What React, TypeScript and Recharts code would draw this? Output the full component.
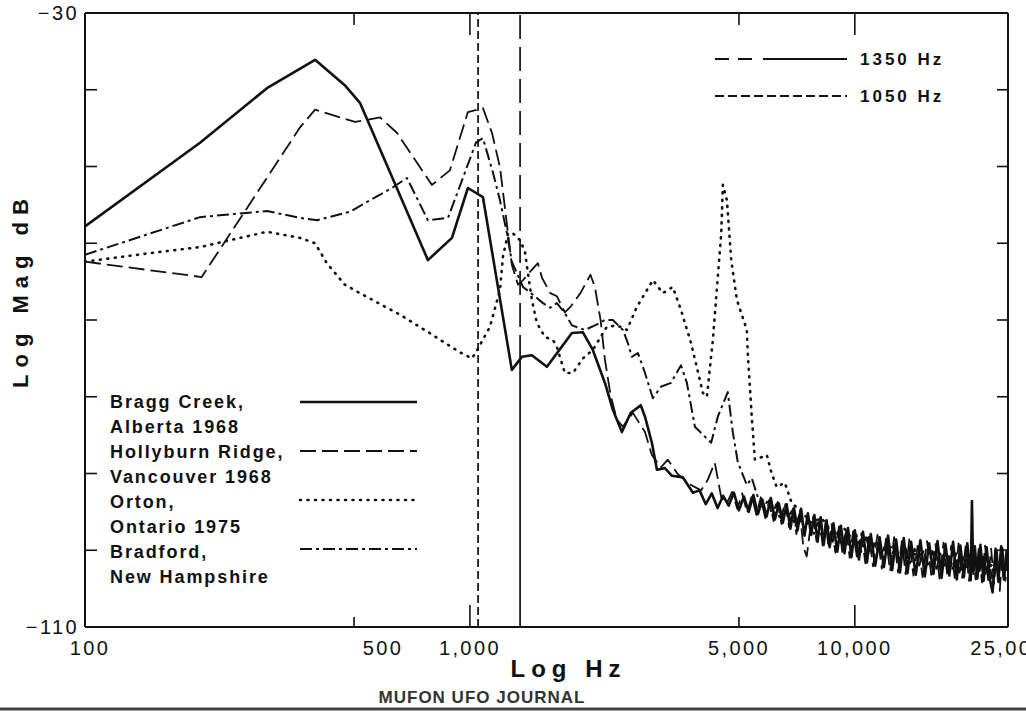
import React from 'react';
import { LineChart, Line, XAxis, YAxis, ReferenceLine, Legend } from 'recharts';

const FONT = '"Liberation Sans", Arial, Helvetica, sans-serif';
const INK = '#111';

// axis ticks
const freqTicks = [100, 500, 1000, 5000, 10000, 25000];
const freqLabels = ['100', '500', '1,000', '5,000', '10,000', '25,000'];
const dbTicks = [-110, -100, -90, -80, -70, -60, -50, -40, -30];
const dbLabeled = [-110, -30];

// marker lines (Hz)
const markerLabels = ['1350 Hz', '1050 Hz'];
const markerFreqs = [1350, 1050];

// [Hz, dB]
const braggCreek = [
  [100, -57.8], [199, -46.9], [297, -39.8], [396, -36.1], [473, -39.4], [518, -41.7],
  [778, -62.2], [898, -59.3], [988, -52.8], [1081, -54.0], [1285, -76.5], [1365, -74.8],
  [1449, -74.6], [1585, -76.1], [1841, -71.7], [1966, -71.6], [2086, -73.9], [2243, -78.2],
  [2352, -81.7], [2482, -84.6], [2617, -82.1], [2779, -81.1], [2850, -82.6], [2970, -86.0],
  [3061, -89.5], [3210, -89.3], [3349, -90.3], [3575, -90.5], [3796, -92.5],
  [3950, -92.2], [4100, -94.0], [4250, -92.6], [4400, -94.5], [4550, -92.9], [4700, -94.2],
  [4850, -92.5], [5000, -94.8], [5150, -93.0], [5300, -95.0], [5450, -92.8], [5600, -95.3],
  [5750, -93.4], [5900, -95.6], [6050, -93.2], [6200, -96.0], [6350, -93.9], [6500, -96.4],
  [6650, -94.0], [6800, -97.2], [6950, -94.5], [7100, -97.4], [7250, -94.6], [7400, -98.1],
  [7550, -95.2], [7700, -98.0], [7850, -95.4], [8000, -98.9], [8150, -95.7], [8300, -99.3],
  [8450, -96.1], [8600, -99.6], [8800, -96.5], [9000, -100.2], [9200, -96.8], [9400, -100.4],
  [9600, -97.1], [9800, -100.9], [10000, -97.4], [10250, -101.2], [10500, -97.6], [10750, -101.6],
  [11000, -97.9], [11300, -102.0], [11600, -98.3], [11900, -102.2], [12200, -98.1], [12500, -102.6],
  [12800, -98.6], [13100, -102.9], [13400, -98.4], [13700, -103.0], [14000, -98.9], [14400, -103.2],
  [14800, -98.7], [15200, -103.4], [15600, -99.1], [16000, -103.1], [16400, -98.8], [16800, -103.6],
  [17200, -99.2], [17600, -103.3], [18000, -98.9], [18400, -103.8], [18800, -99.4], [19200, -103.5],
  [19600, -99.1], [20000, -103.9], [20150, -93.6], [20300, -102.8], [20500, -99.5], [20800, -103.7],
  [21200, -99.3], [21600, -104.0], [22000, -99.6], [22400, -103.6], [22800, -105.5], [23200, -99.8],
  [23600, -104.1], [24000, -99.5], [24400, -103.8], [24800, -100.0], [25000, -102.5],
];

const hollyburnRidge = [
  [100, -62.4], [201, -64.4], [362, -44.9], [396, -42.6], [503, -44.2], [584, -43.6],
  [646, -45.6], [797, -52.4], [887, -50.5], [988, -42.9], [1081, -42.4], [1141, -45.6],
  [1197, -50.1], [1256, -58.7], [1285, -62.8], [1333, -65.4], [1374, -64.8], [1434, -63.7],
  [1502, -62.6], [1539, -64.5], [1617, -66.5], [1682, -66.9], [1765, -69.0], [1824, -68.3],
  [1937, -66.5], [2057, -64.1], [2112, -65.7], [2185, -70.0], [2243, -75.2], [2320, -79.8],
  [2409, -83.0], [2497, -83.9], [2651, -82.1], [2850, -84.6], [2970, -87.6], [3134, -89.2],
  [3268, -88.2], [3470, -90.1], [3754, -91.5], [3987, -92.2], [4150, -90.8], [4327, -88.6],
  [4497, -93.1], [4650, -93.9], [4800, -92.4], [4950, -94.6], [5100, -92.6], [5250, -95.1],
  [5400, -92.9], [5550, -95.4], [5700, -93.1], [5850, -95.8], [6000, -93.4], [6150, -96.2],
  [6300, -93.7], [6450, -96.6], [6600, -94.0], [6750, -97.0], [6900, -94.6], [7050, -97.9],
  [7200, -95.0], [7350, -99.6], [7500, -100.8], [7650, -97.4], [7800, -95.6], [7950, -98.8],
  [8100, -95.9], [8250, -99.4], [8400, -96.2], [8550, -99.8], [8700, -96.6], [8900, -100.3],
  [9100, -96.9], [9300, -100.6], [9500, -97.3], [9700, -101.0], [9900, -97.5], [10150, -101.3],
  [10400, -97.8], [10650, -101.7], [10900, -98.1], [11150, -102.1], [11450, -98.0], [11750, -102.4],
  [12050, -98.5], [12350, -102.7], [12650, -98.3], [12950, -102.9], [13250, -98.8], [13550, -103.1],
  [13850, -98.6], [14200, -103.3], [14600, -99.0], [15000, -103.5], [15400, -98.8], [15800, -103.2],
  [16200, -99.2], [16600, -103.7], [17000, -99.0], [17400, -103.4], [17800, -99.4], [18200, -103.9],
  [18600, -99.1], [19000, -103.6], [19400, -99.5], [19800, -104.0], [20200, -99.3], [20600, -103.8],
  [21000, -99.6], [21400, -104.2], [21800, -99.4], [22200, -103.9], [22600, -99.8], [23000, -104.4],
  [23400, -100.0], [23800, -105.3], [24200, -99.7], [24600, -104.0], [25000, -101.5],
];

const orton = [
  [100, -62.4], [147, -61.3], [199, -60.5], [297, -58.5], [362, -59.3], [396, -60.0],
  [425, -62.6], [473, -65.4], [540, -67.0], [658, -69.3], [786, -71.7], [941, -74.2],
  [1012, -75.0], [1034, -74.3], [1127, -70.9], [1197, -66.1], [1218, -61.8], [1256, -58.7],
  [1293, -58.7], [1350, -59.6], [1390, -61.1], [1415, -63.9], [1449, -67.4], [1493, -70.4],
  [1566, -72.2], [1643, -72.6], [1682, -73.5], [1765, -76.9], [1852, -76.9], [1966, -75.0],
  [2086, -73.9], [2268, -70.9], [2409, -70.7], [2557, -71.3], [2715, -68.3], [2988, -64.8],
  [3171, -66.5], [3366, -65.7], [3535, -68.7], [3754, -73.0], [4030, -79.5], [4127, -80.0],
  [4277, -72.6], [4497, -58.7], [4542, -52.4], [4653, -54.4], [4775, -62.2], [4940, -67.4],
  [5241, -71.3], [5270, -74.3], [5398, -82.6], [5500, -88.2], [5908, -87.6], [6074, -89.9],
  [6270, -91.8], [6578, -91.2], [6851, -93.8], [7275, -95.0], [7700, -96.4], [8200, -95.8],
  [8800, -97.9], [9400, -97.2], [10000, -99.0], [10800, -98.4], [11600, -100.2], [12500, -99.5],
  [13500, -101.1], [14600, -100.3], [15800, -101.8], [17000, -100.7], [18400, -102.2], [20000, -101.0],
  [21600, -102.6], [23400, -101.5], [25000, -102.2],
];

const bradford = [
  [100, -61.5], [199, -56.6], [297, -55.8], [362, -56.7], [401, -57.0], [488, -55.9],
  [631, -52.7], [686, -51.5], [778, -57.0], [877, -56.7], [1037, -46.9], [1081, -46.3],
  [1148, -50.8], [1197, -54.4], [1248, -58.7], [1285, -62.4], [1374, -65.7], [1458, -66.7],
  [1548, -67.8], [1617, -68.4], [1682, -67.8], [1765, -69.1], [1841, -70.7], [1990, -71.3],
  [2112, -70.7], [2243, -70.0], [2352, -70.0], [2497, -71.3], [2573, -73.0], [2634, -74.8],
  [2732, -74.3], [2850, -76.9], [2988, -80.2], [3134, -78.7], [3329, -78.2], [3535, -75.9],
  [3662, -78.2], [3841, -83.9], [4234, -86.0], [4406, -82.6], [4677, -79.4], [4822, -84.7],
  [4966, -88.5], [5241, -91.5], [5398, -90.6], [5598, -93.1], [5800, -94.7], [5950, -93.3],
  [6100, -95.5], [6250, -94.0], [6400, -96.1], [6550, -94.4], [6700, -95.7], [6850, -94.9],
  [7000, -96.9], [7200, -95.2], [7400, -97.5], [7600, -96.0], [7800, -98.1], [8000, -96.4],
  [8250, -98.6], [8500, -96.8], [8750, -98.9], [9000, -97.4], [9250, -99.5], [9500, -97.6],
  [9800, -99.8], [10100, -98.0], [10400, -100.2], [10700, -98.3], [11000, -100.6], [11350, -98.7],
  [11700, -100.8], [12050, -99.0], [12400, -101.2], [12750, -99.2], [13100, -101.5], [13500, -99.5],
  [13900, -101.7], [14300, -99.8], [14700, -102.0], [15100, -100.0], [15500, -102.2], [15900, -100.1],
  [16300, -102.4], [16700, -100.3], [17100, -102.0], [17500, -100.5], [17900, -102.6], [18300, -100.4],
  [18700, -102.9], [19100, -100.8], [19500, -102.4], [19900, -100.6], [20300, -103.1], [20700, -101.0],
  [21100, -102.7], [21500, -100.7], [21900, -103.3], [22300, -101.2], [22700, -103.6], [23100, -101.4],
  [23500, -103.0], [23900, -101.1], [24300, -103.4], [24700, -101.5], [25000, -102.6],
];

const series = [
  { key: 'orton', name: ['Orton,', 'Ontario 1975'], rows: orton, dash: '1 6.5', width: 2.6, cap: 'round' },
  { key: 'bradford', name: ['Bradford,', 'New Hampshire'], rows: bradford, dash: '12 4 3 4', width: 2, cap: 'butt' },
  { key: 'hollyburn', name: ['Hollyburn Ridge,', 'Vancouver 1968'], rows: hollyburnRidge, dash: '16 6', width: 1.8, cap: 'butt' },
  { key: 'bragg', name: ['Bragg Creek,', 'Alberta 1968'], rows: braggCreek, dash: undefined, width: 2.6, cap: 'butt' },
];
// order of the rows in the key at lower left
const keyOrder = ['bragg', 'hollyburn', 'orton', 'bradford'];

const markerStyles = [
  { lineDash: '292 8 24 8 24 8 24 8 24 8 24 8 24 8 24 8 24 8 24 8 24 8', keyDash: '14 9 14 11 90' },
  { lineDash: '8 4', keyDash: '9 4' },
];

const toPoints = (rows: number[][]) => rows.map(([f, db]) => ({ f, db }));

const bottomTickLen: Record<number, number> = { 500: 10, 1000: 22, 5000: 10, 10000: 22 };
const topTickLen: Record<number, number> = { 500: 12, 1000: 22, 5000: 12, 10000: 22 };
const labelShift: Record<number, number> = { 100: 5, 500: 29 };

const BottomTick = (props: any) => {
  const { x, y, payload } = props;
  const v = payload.value;
  const len = bottomTickLen[v] ?? 0;
  return (
    <g>
      {len > 0 && <line x1={x} y1={y} x2={x} y2={y - len} stroke={INK} strokeWidth={1.6} />}
      <text x={x + (labelShift[v] ?? 0)} y={y + 28} textAnchor="middle" fontFamily={FONT} fontSize={20} letterSpacing={2.4} fill={INK}>
        {freqLabels[freqTicks.indexOf(v)]}
      </text>
    </g>
  );
};

const TopTick = (props: any) => {
  const { x, y, payload } = props;
  const len = topTickLen[payload.value] ?? 0;
  return <g>{len > 0 && <line x1={x} y1={y} x2={x} y2={y + len} stroke={INK} strokeWidth={1.6} />}</g>;
};

const LeftTick = (props: any) => {
  const { x, y, payload } = props;
  const v = payload.value;
  const edge = v === -110 || v === -30;
  return (
    <g>
      {!edge && <line x1={x} y1={y} x2={x + 12} y2={y} stroke={INK} strokeWidth={1.6} />}
      {dbLabeled.includes(v) && (
        <text x={x - 6} y={y + 7} textAnchor="end" fontFamily={FONT} fontSize={20} letterSpacing={2.4} fill={INK}>
          {String(v).replace('-', '\u2212')}
        </text>
      )}
    </g>
  );
};

const RightTick = (props: any) => {
  const { x, y, payload } = props;
  const v = payload.value;
  const edge = v === -110 || v === -30;
  return <g>{!edge && <line x1={x} y1={y} x2={x - 11} y2={y} stroke={INK} strokeWidth={1.6} />}</g>;
};

const ChartKey = () => {
  const rows = keyOrder.map((k) => series.find((s) => s.key === k)!);
  return (
    <svg width={1026} height={713} style={{ display: 'block' }}>
      {rows.map((s, i) => (
        <g key={s.key}>
          <text x={110} y={408 + i * 50} fontFamily={FONT} fontSize={18} fontWeight="bold" letterSpacing={1.9} fill={INK}>
            {s.name[0]}
          </text>
          <text x={110} y={433 + i * 50} fontFamily={FONT} fontSize={18} fontWeight="bold" letterSpacing={1.9} fill={INK}>
            {s.name[1]}
          </text>
          <line x1={300} x2={417} y1={402 + i * 49} y2={402 + i * 49} stroke={INK}
            strokeWidth={s.width} strokeDasharray={s.dash} strokeLinecap={s.cap as any} />
        </g>
      ))}
      {markerLabels.map((label, i) => (
        <g key={label}>
          <line x1={715} x2={847} y1={59 + i * 37} y2={59 + i * 37} stroke={INK} strokeWidth={2} strokeDasharray={markerStyles[i].keyDash} />
          <text x={860} y={65 + i * 37} fontFamily={FONT} fontSize={17} fontWeight="bold" letterSpacing={3} fill={INK}>
            {label}
          </text>
        </g>
      ))}
      <defs>
        <clipPath id="scanCut">
          <rect x={0} y={689} width={1026} height={20} />
        </clipPath>
      </defs>
      <text x={482} y={703} textAnchor="middle" clipPath="url(#scanCut)" fontFamily={FONT} fontSize={17} fontWeight="bold" letterSpacing={1} fill="#333">
        MUFON UFO JOURNAL
      </text>
      <line x1={0} x2={1026} y1={709} y2={709} stroke="#444" strokeWidth={3} />
    </svg>
  );
};

export default function App() {
  return (
    <div style={{ position: 'absolute', left: 0, top: 0, width: 1026, height: 713, overflow: 'hidden', background: '#fff' }}>
      <LineChart width={1026} height={713} margin={{ top: 0, right: 0, bottom: 0, left: 0 }}>
        <XAxis
          xAxisId="b"
          dataKey="f"
          type="number"
          scale="log"
          domain={[100, 25000]}
          allowDataOverflow
          ticks={freqTicks}
          height={86}
          tickSize={0}
          tickMargin={0}
          tickLine={false}
          tick={BottomTick}
          interval={0}
          axisLine={{ stroke: INK, strokeWidth: 2 }}
          label={(p: any) => (
            <text x={p.viewBox.x + p.viewBox.width / 2 + 22} y={p.viewBox.y + 50} textAnchor="middle"
              fontFamily={FONT} fontSize={24} fontWeight="bold" letterSpacing={6} fill={INK}>
              Log Hz
            </text>
          )}
        />
        <XAxis
          xAxisId="t"
          orientation="top"
          dataKey="f"
          type="number"
          scale="log"
          domain={[100, 25000]}
          allowDataOverflow
          ticks={freqTicks}
          height={13}
          tickSize={0}
          tickMargin={0}
          tickLine={false}
          tick={TopTick}
          interval={0}
          axisLine={{ stroke: INK, strokeWidth: 2 }}
        />
        <YAxis
          yAxisId="l"
          type="number"
          domain={[-110, -30]}
          allowDataOverflow
          ticks={dbTicks}
          width={85}
          tickSize={0}
          tickMargin={0}
          tickLine={false}
          tick={LeftTick}
          interval={0}
          axisLine={{ stroke: INK, strokeWidth: 2 }}
          label={(p: any) => {
            const cx = p.viewBox.x + 20;
            const cy = p.viewBox.y + p.viewBox.height / 2 - 30;
            return (
              <text x={cx} y={cy} transform={`rotate(-90, ${cx}, ${cy})`} textAnchor="middle" dominantBaseline="central"
                fontFamily={FONT} fontSize={22} fontWeight="bold" letterSpacing={7} fill={INK}>
                Log Mag dB
              </text>
            );
          }}
        />
        <YAxis
          yAxisId="r"
          orientation="right"
          type="number"
          domain={[-110, -30]}
          allowDataOverflow
          ticks={dbTicks}
          width={18}
          tickSize={0}
          tickMargin={0}
          tickLine={false}
          tick={RightTick}
          interval={0}
          axisLine={{ stroke: INK, strokeWidth: 2 }}
        />
        {markerFreqs.map((f, i) => (
          <ReferenceLine key={f} x={f} xAxisId="b" yAxisId="l" stroke={INK} strokeWidth={1.7}
            strokeDasharray={markerStyles[i].lineDash} />
        ))}
        {series.map((s) => (
          <Line
            key={s.key}
            xAxisId="b"
            yAxisId="l"
            data={toPoints(s.rows)}
            dataKey="db"
            type="linear"
            stroke={INK}
            strokeWidth={s.width}
            strokeDasharray={s.dash}
            strokeLinecap={s.cap as any}
            strokeLinejoin="round"
            dot={false}
            activeDot={false}
            isAnimationActive={false}
          />
        ))}
        <Legend
          layout="horizontal"
          align="center"
          verticalAlign="middle"
          content={() => <ChartKey />}
          wrapperStyle={{ position: 'absolute', left: 0, top: 0, width: 1026, height: 713, pointerEvents: 'none' }}
        />
      </LineChart>
    </div>
  );
}
